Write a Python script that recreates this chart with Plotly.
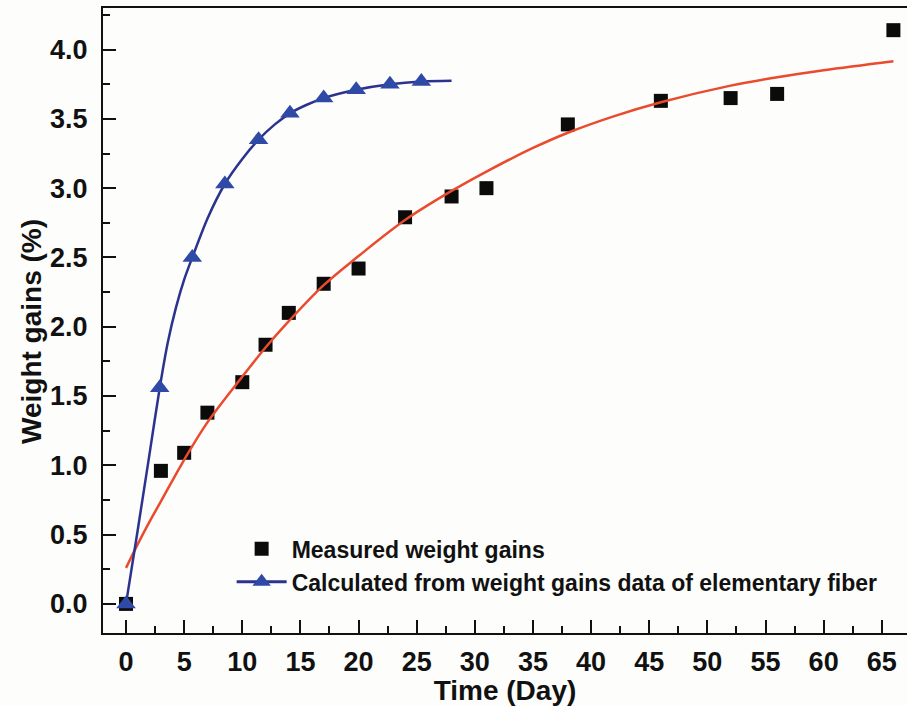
import plotly.graph_objects as go

# Measured weight gains (%) of the composite
measured_day = [0, 3, 5, 7, 10, 12, 14, 17, 20, 24, 28, 31, 38, 46, 52, 56, 66]
measured_gain = [0.00, 0.96, 1.09, 1.38, 1.60, 1.87, 2.10, 2.31, 2.42, 2.79, 2.94,
                 3.00, 3.46, 3.63, 3.65, 3.68, 4.14]

# Fitted curve through the measured data
fit_day = [0, 1, 2, 3, 5, 7, 10, 12, 14, 17, 20, 24, 28, 31, 35, 38, 42, 46, 52, 56, 60, 66]
fit_gain = [0.26, 0.43, 0.59, 0.74, 1.04, 1.31, 1.64, 1.85, 2.04, 2.30, 2.51, 2.77,
            2.98, 3.12, 3.29, 3.40, 3.52, 3.62, 3.74, 3.80, 3.85, 3.915]

# Values calculated from the elementary fiber weight gains
calc_day = [0, 2.9, 5.7, 8.5, 11.4, 14.1, 17.0, 19.8, 22.7, 25.4]
calc_gain = [0.00, 1.56, 2.50, 3.03, 3.35, 3.54, 3.65, 3.71, 3.75, 3.77]

# Smooth curve through the calculated values
calc_curve_day = [0, 1, 2, 2.9, 3.6, 4.3, 5.0, 5.7, 7.0, 8.5, 10.0, 11.4, 12.8, 14.1,
                  15.5, 17.0, 19.8, 22.7, 25.4, 28.0]
calc_curve_gain = [0.00, 0.53, 1.07, 1.56, 1.89, 2.14, 2.34, 2.50, 2.78, 3.03, 3.21,
                   3.35, 3.46, 3.54, 3.60, 3.65, 3.71, 3.75, 3.77, 3.775]

FONT = "Liberation Sans, Arial, sans-serif"
INK = "#111111"
BLUE_LINE = "#2b338f"
BLUE_MARK = "#2f4aa6"
RED = "#ea4a2e"

fig = go.Figure()

fig.add_trace(go.Scatter(
    x=measured_day, y=measured_gain, mode="markers",
    name="Measured weight gains",
    marker=dict(symbol="square", size=14, color="#0b0b0b"),
))
fig.add_trace(go.Scatter(
    x=fit_day, y=fit_gain, mode="lines", showlegend=False,
    line=dict(color=RED, width=2.5, shape="spline", smoothing=1.0),
))
fig.add_trace(go.Scatter(
    x=calc_curve_day, y=calc_curve_gain, mode="lines", showlegend=False,
    line=dict(color=BLUE_LINE, width=2.5, shape="spline", smoothing=0.8),
))
fig.add_trace(go.Scatter(
    x=calc_day, y=calc_gain, mode="markers", showlegend=False,
    marker=dict(symbol="triangle-up", size=17, color=BLUE_MARK),
))
# legend entry for the calculated series (line with triangle)
fig.add_trace(go.Scatter(
    x=[None], y=[None], mode="lines+markers",
    name="Calculated from weight gains data of elementary fiber",
    line=dict(color=BLUE_LINE, width=3),
    marker=dict(symbol="triangle-up", size=17, color=BLUE_MARK),
))

axis_common = dict(
    showline=True, linecolor=INK, linewidth=2,
    ticks="inside", ticklen=13, tickwidth=2, tickcolor=INK,
    showgrid=False, zeroline=False,
    tickfont=dict(family=FONT, size=27, color=INK, weight="bold"),
)

fig.update_xaxes(
    **axis_common,
    range=[-1.98, 67.17], tick0=0, dtick=5, mirror=True,
    minor=dict(ticks="inside", ticklen=7, tickwidth=1.5, tickcolor=INK, dtick=2.5, tick0=0),
    ticklabelstandoff=4,
    title=dict(text="Time (Day)", standoff=0,
               font=dict(family=FONT, size=28, color=INK, weight="bold")),
)
fig.update_yaxes(
    **axis_common,
    range=[-0.21, 4.30], tick0=0, dtick=0.5, tickformat=".1f",
    minor=dict(ticks="inside", ticklen=7, tickwidth=1.5, tickcolor=INK, dtick=0.25, tick0=0),
    ticklabelstandoff=8,
)

# vertical axis title, centred a little below the middle of the axis
fig.add_annotation(
    text="Weight gains (%)", textangle=-90, showarrow=False,
    xref="paper", yref="paper", x=-0.088, y=0.482, xanchor="center", yanchor="middle",
    font=dict(family=FONT, size=28, color=INK, weight="bold"),
)

fig.update_layout(
    width=907, height=706,
    margin=dict(l=103, r=0, t=8, b=73, autoexpand=False),
    paper_bgcolor="#fdfdfb", plot_bgcolor="#fdfdfb",
    legend=dict(
        x=0.16, y=0.169, xanchor="left", yanchor="top",
        bgcolor="rgba(0,0,0,0)", itemwidth=50, tracegroupgap=0,
        font=dict(family=FONT, size=23, color=INK, weight="bold"),
    ),
    showlegend=True,
)

fig.write_html("out.html")
